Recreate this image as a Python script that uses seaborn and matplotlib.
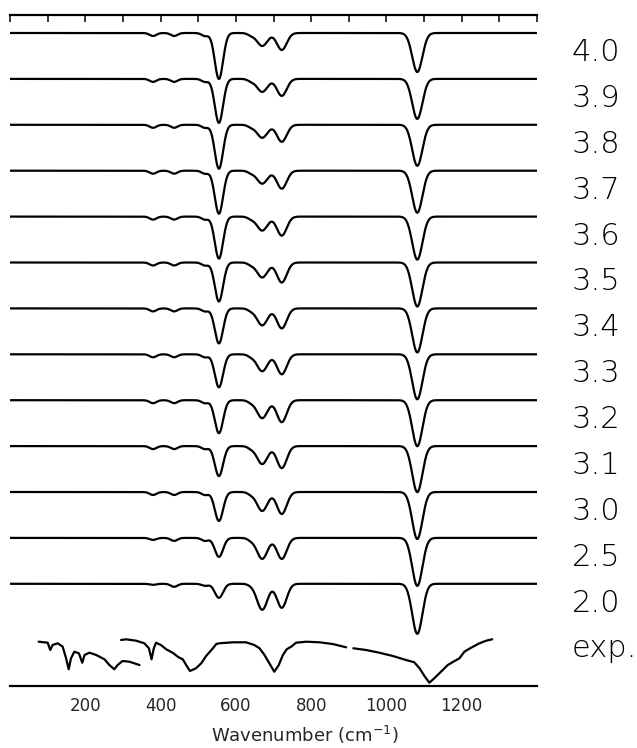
import numpy as np
import pandas as pd
import matplotlib
matplotlib.use("Agg")
import matplotlib.pyplot as plt
import matplotlib.transforms as mtransforms
import seaborn as sns

# ---- data ----
trace_labels = ["4.0", "3.9", "3.8", "3.7", "3.6", "3.5", "3.4",
                "3.3", "3.2", "3.1", "3.0", "2.5", "2.0"]

# band centres (cm-1) and gaussian half widths (cm-1)
band_pos = [380, 436, 518, 640, 555, 670, 722, 1082]
band_sigma = [9, 9, 9, 9, 11, 14, 13, 13.5]

# band depths for each computed trace (arb. units)
d_380 = [3, 3, 3, 3, 3, 3, 3, 3, 3, 3, 3, 2, 1]
d_436 = [3, 3, 3, 3, 3, 3, 3, 3, 3, 3, 3, 3, 3]
d_518 = [3, 3, 3, 3, 3, 3, 3, 3, 3, 3, 3, 3, 2]
d_640 = [2, 2, 2, 2, 2, 2, 2, 2, 2, 2, 2, 2, 1]
d_555 = [46, 44, 44, 43, 42, 39, 35, 33, 33, 30, 29, 19, 14]
d_670 = [13, 13, 13, 13, 14, 15, 17, 17, 18, 18, 19, 21, 26]
d_722 = [17, 17, 17, 18, 19, 20, 20, 20, 22, 22, 22, 21, 24]
d_1082 = [39, 40, 41, 42, 43, 44, 44, 45, 46, 46, 47, 48, 50]

# experimental spectrum, three pieces (wavenumber, depth below top)
exp1_wn = [76, 100, 107, 113, 127, 140, 149, 156, 162, 171, 183, 192, 198,
           211, 229, 251, 264, 277, 286, 299, 317, 344]
exp1_d = [2.7, 3.7, 11, 6, 4.3, 7.7, 19.3, 30.3, 19.3, 12.7, 14.3, 23.7, 16,
          13.7, 16, 20.3, 26, 30.3, 26, 22, 22.7, 26]
exp2_wn = [295, 308, 335, 357, 369, 376, 382, 388, 401, 415, 432, 448, 459,
           468, 478, 494, 508, 521, 539, 548, 556, 592, 627, 649, 663, 676,
           689, 702, 714, 725, 735, 747, 760, 787, 822, 857, 893]
exp2_d = [1, 0.3, 1.7, 4.3, 9.3, 20.3, 9.3, 3.7, 6, 10.3, 13.7, 18.3, 20.3,
          26, 32, 29.3, 24.3, 17, 9.3, 5, 4.3, 3.3, 3.3, 6, 9.3, 16,
          24.3, 32.7, 26, 16, 10.3, 7.7, 3.7, 2.7, 3.3, 5, 8.3]
exp3_wn = [912, 946, 981, 1017, 1052, 1074, 1088, 1101, 1114, 1127, 1145,
           1163, 1181, 1194, 1207, 1225, 1247, 1265, 1281]
exp3_d = [9.3, 11, 13.7, 17, 21, 23.3, 29.3, 37, 43.7, 39.3, 32.7, 26, 22,
          19.3, 12.7, 8.7, 4.3, 1.7, 0.3]

tick_vals = [0, 100, 200, 300, 400, 500, 600, 700, 800, 900, 1000, 1100,
             1200, 1300, 1400]
tick_labels = ["", "", "200", "", "400", "", "600", "", "800", "", "1000",
               "", "1200", "", ""]

# ---- layout ----
top_base = 653.0
spacing = 45.9
exp_base = 47.0

wn = np.linspace(0, 1400, 1401)
depths = [d_380, d_436, d_518, d_640, d_555, d_670, d_722, d_1082]

frames = []
for i, lab in enumerate(trace_labels):
    absorb = np.zeros_like(wn)
    for pos, sig, dd in zip(band_pos, band_sigma, depths):
        absorb += dd[i] * np.exp(-(wn - pos) ** 2 / (2 * sig ** 2))
    y = top_base - i * spacing - absorb
    frames.append(pd.DataFrame({"wn": wn, "y": y, "unit": lab}))

for k, (xw, dd) in enumerate([(exp1_wn, exp1_d), (exp2_wn, exp2_d), (exp3_wn, exp3_d)]):
    frames.append(pd.DataFrame({"wn": xw, "y": exp_base - np.array(dd), "unit": "exp%d" % k}))

df = pd.concat(frames, ignore_index=True)

sns.set_style("white")
plt.rcParams["font.family"] = ["DejaVu Sans"]

fig = plt.figure(figsize=(6.37, 7.48), dpi=100)
ax = fig.add_axes([10 / 637, 62 / 748, 527 / 637, 671 / 748])

sns.lineplot(data=df, x="wn", y="y", units="unit", estimator=None, sort=False,
             color="black", lw=1.6, ax=ax, legend=False)

ax.set_xlim(0, 1400)
ax.set_ylim(0, 671)
ax.set_yticks([])
ax.set_xticks(tick_vals)
ax.set_xticklabels(tick_labels)
ax.tick_params(axis="x", direction="in", length=5, width=1.3, top=True,
               labelsize=12, pad=8)
ax.set_xlabel("")
ax.set_ylabel("")
for s in ["left", "right"]:
    ax.spines[s].set_visible(False)
for s in ["top", "bottom"]:
    ax.spines[s].set_linewidth(1.6)
    ax.spines[s].set_color("black")

trans = mtransforms.blended_transform_factory(ax.transAxes, ax.transData)
for i, lab in enumerate(trace_labels):
    ax.text(1.066, top_base - i * spacing - 28, lab, transform=trans,
            fontsize=22, fontweight="light", ha="left", va="baseline",
            color="black", clip_on=False)
ax.text(1.066, exp_base - 18, "exp.", transform=trans, fontsize=22,
        fontweight="light", ha="left", va="baseline", color="black",
        clip_on=False)

fig.text(305 / 637, (748 - 735) / 748, "Wavenumber (cm$^{-1}$)",
         ha="center", va="center", fontsize=13)

fig.savefig("out.png", dpi=100, facecolor="white")
